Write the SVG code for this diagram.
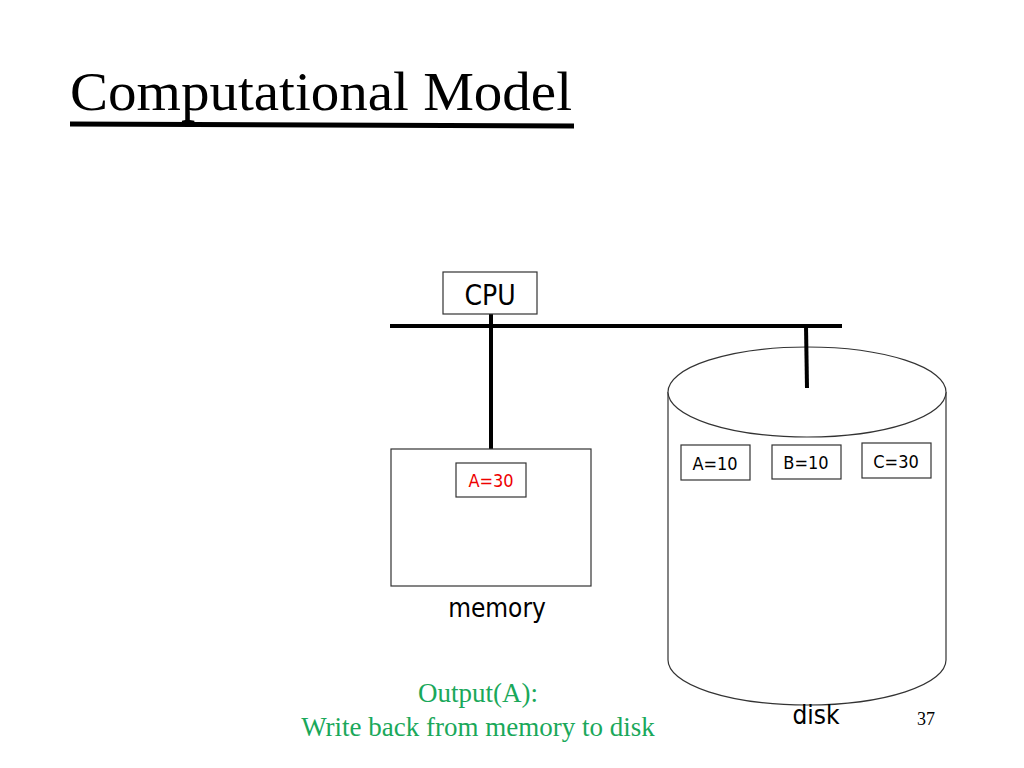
<svg xmlns="http://www.w3.org/2000/svg" width="1024" height="768" viewBox="0 0 1024 768">
<style>
.s{font-family:"DejaVu Sans Condensed","DejaVu Sans",sans-serif;fill:#000}
.b{fill:#fff;stroke:#333;stroke-width:1.2}
.w{stroke:#000;stroke-width:4;fill:none}
.g{font-family:"Liberation Serif",serif;fill:#1aa85a;font-size:27px}
</style>
<rect width="1024" height="768" fill="#fff"/>
<text x="70" y="110" font-family="Liberation Serif,serif" font-size="55" textLength="502" lengthAdjust="spacingAndGlyphs">Computational Model</text>
<line x1="70" y1="124" x2="574" y2="126" stroke="#000" stroke-width="5"/>
<g id="disk">
<path d="M668,392 V660 A139,45 0 0 0 946,660 V392" fill="#fff" stroke="#333" stroke-width="1.2"/>
<ellipse cx="807" cy="392" rx="139" ry="45" fill="#fff" stroke="#333" stroke-width="1.2"/>
<text class="s" x="816" y="724" font-size="26" text-anchor="middle">disk</text>
</g>
<g id="connectors">
<line class="w" x1="390" y1="326" x2="842" y2="326"/>
<line class="w" x1="491" y1="314" x2="491" y2="449"/>
<line class="w" x1="806" y1="326" x2="807" y2="388"/>
</g>
<g id="cpu"><rect class="b" x="443" y="272" width="94" height="42"/><text class="s" x="490" y="305" font-size="28" text-anchor="middle">CPU</text></g>
<g id="memory">
<rect class="b" x="391" y="449" width="200" height="137"/>
<rect class="b" x="456" y="463" width="70" height="34" stroke-width="1.5"/>
<text class="s" x="491" y="487" font-size="18" style="fill:#e00" text-anchor="middle">A=30</text>
<text class="s" x="497" y="617" font-size="26" text-anchor="middle">memory</text>
</g>
<g id="a10"><rect class="b" x="681" y="445" width="69" height="35"/><text class="s" x="715" y="470" font-size="18" text-anchor="middle">A=10</text></g>
<g id="b10"><rect class="b" x="772" y="445" width="69" height="34"/><text class="s" x="806" y="469" font-size="18" text-anchor="middle">B=10</text></g>
<g id="c30"><rect class="b" x="862" y="443" width="69" height="35"/><text class="s" x="896" y="468" font-size="18" text-anchor="middle">C=30</text></g>
<text class="g" x="478" y="702" text-anchor="middle">Output(A):</text>
<text class="g" x="478" y="736" text-anchor="middle">Write back from memory to disk</text>
<text x="926" y="725" font-family="Liberation Serif,serif" font-size="18" text-anchor="middle">37</text>
</svg>
